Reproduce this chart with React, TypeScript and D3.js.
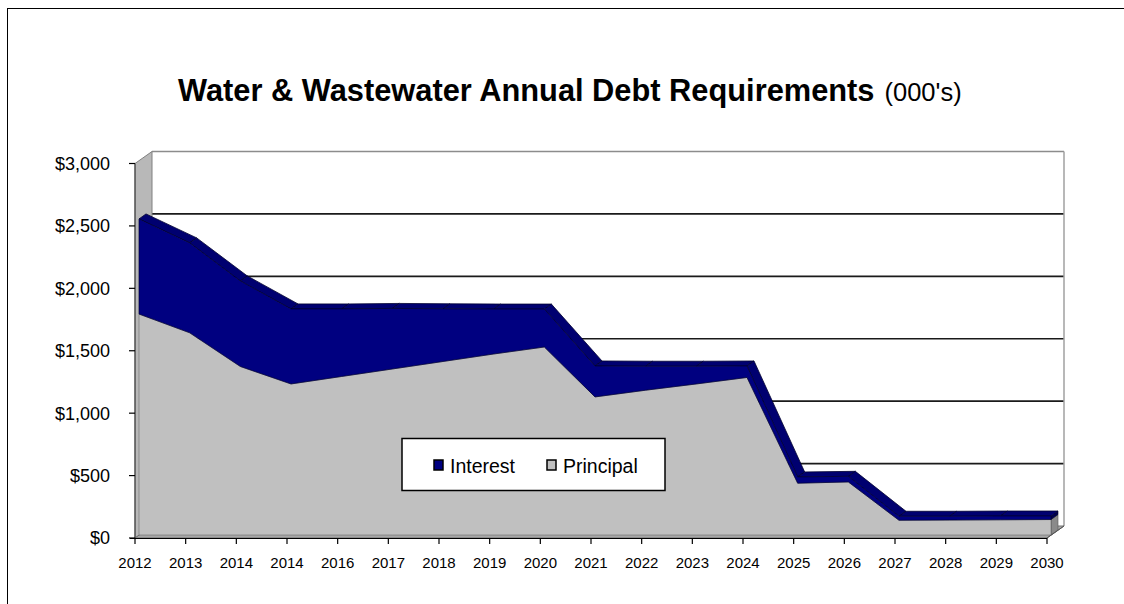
import React from "react";
import * as d3 from "d3";

const categories = ["2012","2013","2014","2014","2016","2017","2018","2019","2020","2021","2022","2023","2024","2025","2026","2027","2028","2029","2030"];
const principal = [1770,1620,1350,1210,1270,1330,1390,1450,1506,1106,1160,1210,1262,415,425,118,120,122,124];
const interest = [762,720,685,601,541,485,422,360,304,248,192,142,92,50,45,32,30,30,28];
const yTicks = [0,500,1000,1500,2000,2500,3000];
const seriesNames = ["Interest","Principal"];

const W = 1124, H = 604;
const FONT = "Arial, 'Liberation Sans', sans-serif";

export default function App() {
  const idx = d3.range(categories.length);
  const x = d3.scalePoint<number>().domain(idx).range([135, 1047]);
  const y = d3.scaleLinear().domain([0, 3000]).range([538, 163.5]);
  const DX = 17, DY = -12; // wall depth
  const F = { dx: 4, dy: -3 };   // area front face offset
  const B = { dx: 11, dy: -8 };  // area back face offset
  const totals = principal.map((p, i) => p + interest[i]);

  const fx = (i: number) => (x(i) as number) + F.dx;
  const fy = (v: number) => y(v) + F.dy;
  const bxp = (i: number) => (x(i) as number) + B.dx;
  const byp = (v: number) => y(v) + B.dy;

  const principalArea = d3.area<number>().x(i => fx(i)).y0(() => fy(0)).y1(i => fy(principal[i]));
  const interestArea = d3.area<number>().x(i => fx(i)).y0(i => fy(principal[i])).y1(i => fy(totals[i]));
  const poly = d3.line<[number, number]>();

  const x0 = x(0) as number, x1 = x(categories.length - 1) as number;
  const last = categories.length - 1;

  const topFaces = idx.slice(0, -1).map(i => poly([
    [fx(i), fy(totals[i])], [fx(i + 1), fy(totals[i + 1])],
    [bxp(i + 1), byp(totals[i + 1])], [bxp(i), byp(totals[i])]
  ]) + "Z");

  return (
    <svg width={W} height={H} style={{ position: "absolute", left: 0, top: 0, background: "#fff" }} fontFamily={FONT}>
      {/* frame */}
      <line x1={7.5} y1={8} x2={7.5} y2={H} stroke="#000" strokeWidth={1} />
      <line x1={7.5} y1={8.5} x2={W} y2={8.5} stroke="#000" strokeWidth={1} />

      {/* title */}
      <text x={178} y={101} fontSize={30.8} fontWeight="bold" fill="#000">
        Water &amp; Wastewater Annual Debt Requirements
        <tspan fontSize={25.5} fontWeight="normal" dx={10}>(000's)</tspan>
      </text>

      {/* back wall */}
      <rect x={x0 + DX} y={y(3000) + DY} width={x1 - x0} height={y(0) - y(3000)} fill="#fff" />
      {yTicks.filter(v => v > 0 && v < 3000).map(v => (
        <line key={v} x1={x0 + DX} x2={x1 + DX} y1={y(v) + DY} y2={y(v) + DY} stroke="#1a1a1a" strokeWidth={1.6} />
      ))}
      <line x1={x0 + DX} x2={x1 + DX} y1={y(3000) + DY} y2={y(3000) + DY} stroke="#8c8c8c" strokeWidth={1.5} />
      <line x1={x1 + DX} x2={x1 + DX} y1={y(3000) + DY} y2={y(0) + DY} stroke="#a0a0a0" strokeWidth={1.5} />

      {/* left wall */}
      <path d={poly([[x0, y(3000)], [x0 + DX, y(3000) + DY], [x0 + DX, y(0) + DY], [x0, y(0)]]) + "Z"}
        fill="#b8b8b8" stroke="#808080" strokeWidth={1} />
      {/* floor */}
      <path d={poly([[x0, y(0)], [x1, y(0)], [x1 + DX, y(0) + DY], [x0 + DX, y(0) + DY]]) + "Z"}
        fill="#a8a8a8" stroke="#707070" strokeWidth={1} />

      {/* right end faces */}
      <path d={poly([[fx(last), fy(0)], [bxp(last), byp(0)], [bxp(last), byp(principal[last])], [fx(last), fy(principal[last])]]) + "Z"}
        fill="#8a8a8a" stroke="#555" strokeWidth={0.6} />
      <path d={poly([[fx(last), fy(principal[last])], [bxp(last), byp(principal[last])], [bxp(last), byp(totals[last])], [fx(last), fy(totals[last])]]) + "Z"}
        fill="#000050" stroke="#000020" strokeWidth={0.6} />

      {/* top faces of interest */}
      {topFaces.map((d, i) => (
        <path key={i} d={d} fill="#000070" stroke="#000030" strokeWidth={0.8} strokeLinejoin="round" />
      ))}

      {/* front faces */}
      <path d={principalArea(idx) as string} fill="#c0c0c0" stroke="#444" strokeWidth={0.4} />
      <path d={interestArea(idx) as string} fill="#000080" stroke="#000030" strokeWidth={0.7} strokeLinejoin="round" />

      {/* axes */}
      <line x1={x0} x2={x0} y1={y(3000)} y2={y(0)} stroke="#333" strokeWidth={1} />
      <line x1={x0 - 5} x2={x1} y1={y(0) + 0.5} y2={y(0) + 0.5} stroke="#000" strokeWidth={1.2} />
      <line x1={x1} x2={x1 + DX} y1={y(0)} y2={y(0) + DY} stroke="#555" strokeWidth={1} />
      {yTicks.map(v => (
        <g key={v}>
          <line x1={x0 - 6} x2={x0} y1={y(v)} y2={y(v)} stroke="#000" strokeWidth={1.2} />
          <text x={110} y={y(v)} dy="0.36em" textAnchor="end" fontSize={18} fill="#000">
            {"$" + d3.format(",")(v)}
          </text>
        </g>
      ))}
      {idx.map(i => (
        <g key={i}>
          <line x1={x(i) as number} x2={x(i) as number} y1={y(0)} y2={y(0) + 6} stroke="#000" strokeWidth={1.2} />
          <text x={x(i) as number} y={568} textAnchor="middle" fontSize={15} fill="#000">{categories[i]}</text>
        </g>
      ))}

      {/* legend */}
      <rect x={402} y={438.5} width={263} height={52} fill="#fff" stroke="#000" strokeWidth={1.5} />
      <rect x={434} y={460} width={9} height={10} fill="#000080" stroke="#000" strokeWidth={1.5} />
      <text x={450} y={472.5} fontSize={19.5} fill="#000">{seriesNames[0]}</text>
      <rect x={547} y={460} width={9} height={10} fill="#c0c0c0" stroke="#000" strokeWidth={1.5} />
      <text x={563} y={472.5} fontSize={19.5} fill="#000">{seriesNames[1]}</text>
    </svg>
  );
}
